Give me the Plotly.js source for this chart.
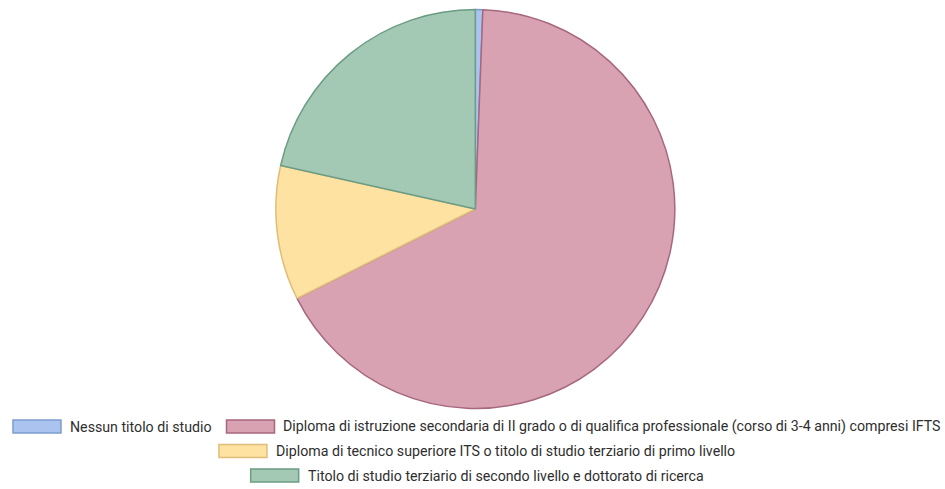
<!DOCTYPE html>
<html>
<head>
<meta charset="utf-8">
<script src="https://cdn.plot.ly/plotly-3.0.1.min.js"></script>
<style>html,body{margin:0;padding:0;background:#fff;}#chart{width:945px;height:489px;}</style>
</head>
<body>
<div id="chart"></div>
<script>
// Data
const categories = [
  "Nessun titolo di studio",
  "Diploma di istruzione secondaria di II grado o di qualifica professionale (corso di 3-4 anni) compresi IFTS",
  "Diploma di tecnico superiore ITS o titolo di studio terziario di primo livello",
  "Titolo di studio terziario di secondo livello e dottorato di ricerca"
];
const values = [0.6, 67.0, 10.9, 21.5];
const fillColors = ["#aac4ef", "#d8a2b2", "#fde2a2", "#a3c9b5"];
const borderColors = ["#7d9ccf", "#a6677f", "#e0bd78", "#6b9c84"];

const W = 945, H = 489;
const fontFamily = "Roboto, 'Open Sans', Arial, sans-serif";
const fontSize = 14.2;

// measure text
const cv = document.createElement("canvas").getContext("2d");
cv.font = fontSize + "px Roboto";
function tw(s){ return cv.measureText(s).width; }

// custom centered legend (Chart.js style)
const boxW = 48, boxH = 13, boxGap = 7, itemGap = 17, maxRow = 938;
const rowY = [426.5, 451, 475.5];
const centerX = 476;
const rows = [];
let cur = [], curW = 0;
categories.forEach((c, i) => {
  const w = boxW + boxGap + tw(c);
  const add = cur.length ? itemGap + w : w;
  if (cur.length && curW + add > maxRow) { rows.push({items: cur, w: curW}); cur = [i]; curW = w; }
  else { cur.push(i); curW += add; }
});
if (cur.length) rows.push({items: cur, w: curW});

const shapes = [], annotations = [];
rows.forEach((r, ri) => {
  let x = centerX - r.w / 2;
  const yc = rowY[ri];
  r.items.forEach(i => {
    shapes.push({type: "rect", xref: "paper", yref: "paper",
      x0: x / W, x1: (x + boxW) / W, y0: 1 - (yc + boxH / 2) / H, y1: 1 - (yc - boxH / 2) / H,
      fillcolor: fillColors[i], line: {color: borderColors[i], width: 1.5}});
    annotations.push({xref: "paper", yref: "paper", x: (x + boxW + boxGap) / W, y: 1 - yc / H,
      xanchor: "left", yanchor: "middle", showarrow: false, text: categories[i],
      font: {family: fontFamily, size: fontSize, color: "#2e2e2e"}});
    x += boxW + boxGap + tw(categories[i]) + itemGap;
  });
});

const trace = {
  type: "pie",
  labels: categories,
  values: values,
  sort: false,
  direction: "clockwise",
  rotation: 0,
  textinfo: "none",
  hoverinfo: "label+percent",
  marker: {colors: fillColors, line: {color: borderColors, width: 1.5}},
  domain: {x: [0.006, 1], y: [1 - 408.5 / H, 1 - 9.5 / H]},
  showlegend: false
};

Plotly.newPlot("chart", [trace], {
  width: W, height: H,
  margin: {l: 0, r: 0, t: 0, b: 0},
  paper_bgcolor: "#ffffff",
  showlegend: false,
  shapes: shapes,
  annotations: annotations,
  font: {family: fontFamily}
}, {displayModeBar: false, staticPlot: true});
</script>
</body>
</html>
